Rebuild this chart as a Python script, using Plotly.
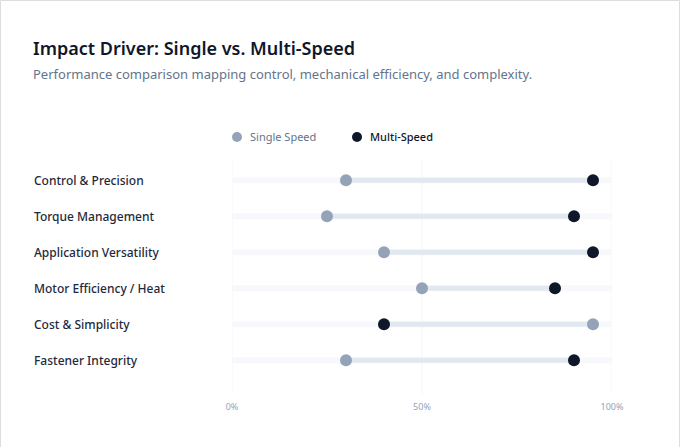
import plotly.graph_objects as go

categories = ["Control & Precision", "Torque Management", "Application Versatility",
              "Motor Efficiency / Heat", "Cost & Simplicity", "Fastener Integrity"]
single_speed = [30, 25, 40, 50, 95, 30]
multi_speed = [95, 90, 95, 85, 40, 90]
x_ticks = [0, 50, 100]
x_tick_labels = ["0%", "50%", "100%"]
series_names = ["Single Speed", "Multi-Speed"]
series_colors = ["#94a3b8", "#0f172a"]
legend_text_colors = ["#64748b", "#0f172a"]

W, H = 680, 447
L, R, T, B = 232, 68, 160, 53
pw, ph = W - L - R, H - T - B

def px_to_paper_x(px):
    return (px - L) / pw

def px_to_paper_y(py):
    return (H - B - py) / ph

n = len(categories)
idx = list(range(n))

fig = go.Figure()

# background tracks
tx, ty = [], []
for i in idx:
    tx += [0, 100, None]
    ty += [i, i, None]
fig.add_trace(go.Scatter(x=tx, y=ty, mode="lines", line=dict(color="#f6f8fb", width=6),
                         hoverinfo="skip", showlegend=False))
# segments between values
sx, sy = [], []
for i in idx:
    sx += [single_speed[i], multi_speed[i], None]
    sy += [i, i, None]
fig.add_trace(go.Scatter(x=sx, y=sy, mode="lines", line=dict(color="#e2e8f0", width=5),
                         hoverinfo="skip", showlegend=False))

fig.add_trace(go.Scatter(x=single_speed, y=idx, mode="markers", name=series_names[0],
                         marker=dict(color=series_colors[0], size=12), showlegend=False))
fig.add_trace(go.Scatter(x=multi_speed, y=idx, mode="markers", name=series_names[1],
                         marker=dict(color=series_colors[1], size=12), showlegend=False))

annotations = []
for i, c in enumerate(categories):
    annotations.append(dict(x=px_to_paper_x(32), xref="paper", y=i, yref="y", text=c,
                            showarrow=False, xanchor="left", yanchor="middle",
                            font=dict(size=12, color="#1e293b", family="Noto Sans", weight=500)))
annotations.append(dict(x=px_to_paper_x(31), xref="paper", y=px_to_paper_y(48), yref="paper",
                        text="Impact Driver: Single vs. Multi-Speed", showarrow=False,
                        xanchor="left", yanchor="middle",
                        font=dict(size=18, color="#0f172a", family="Noto Sans", weight=600)))
annotations.append(dict(x=px_to_paper_x(31), xref="paper", y=px_to_paper_y(74), yref="paper",
                        text="Performance comparison mapping control, mechanical efficiency, and complexity.",
                        showarrow=False, xanchor="left", yanchor="middle",
                        font=dict(size=13, color="#64748b", family="Noto Sans")))

shapes = [dict(type="rect", xref="paper", yref="paper",
               x0=px_to_paper_x(0.5), x1=px_to_paper_x(679.5),
               y0=px_to_paper_y(470), y1=px_to_paper_y(0.5),
               line=dict(color="#dddddd", width=1), fillcolor="rgba(0,0,0,0)", layer="below")]
# vertical gridlines at tick values
for v in x_ticks:
    shapes.append(dict(type="line", xref="x", yref="paper", x0=v, x1=v, y0=0, y1=1,
                       line=dict(color="#f1f5f9", width=1), layer="below"))

# manual legend
legend_x = [237, 357]
legend_y = 137
for k in range(2):
    cx = px_to_paper_x(legend_x[k])
    r_x = 5 / pw
    cy = px_to_paper_y(legend_y)
    r_y = 5 / ph
    shapes.append(dict(type="circle", xref="paper", yref="paper",
                       x0=cx - r_x, x1=cx + r_x, y0=cy - r_y, y1=cy + r_y,
                       fillcolor=series_colors[k], line=dict(width=0)))
    annotations.append(dict(x=px_to_paper_x(legend_x[k] + 11), xref="paper", y=cy, yref="paper",
                            text=series_names[k], showarrow=False, xanchor="left",
                            yanchor="middle",
                            font=dict(size=11, color=legend_text_colors[k], family="Noto Sans",
                                      weight=500 if k == 1 else 400)))

fig.update_layout(
    width=W, height=H,
    margin=dict(l=L, r=R, t=T, b=B),
    paper_bgcolor="white", plot_bgcolor="white",
    font=dict(family="Noto Sans"),
    showlegend=False,
    annotations=annotations,
    shapes=shapes,
    xaxis=dict(range=[0, 100], tickvals=x_ticks, ticktext=x_tick_labels,
               showgrid=False, zeroline=False,
               showline=False, ticks="", tickfont=dict(size=9, color="#94a3b8"),
               ticklabelstandoff=6, fixedrange=True),
    yaxis=dict(range=[5.94, -0.56], showticklabels=False, showgrid=False,
               zeroline=False, showline=False, fixedrange=True),
    hovermode=False,
)

fig.write_html("out.html")
